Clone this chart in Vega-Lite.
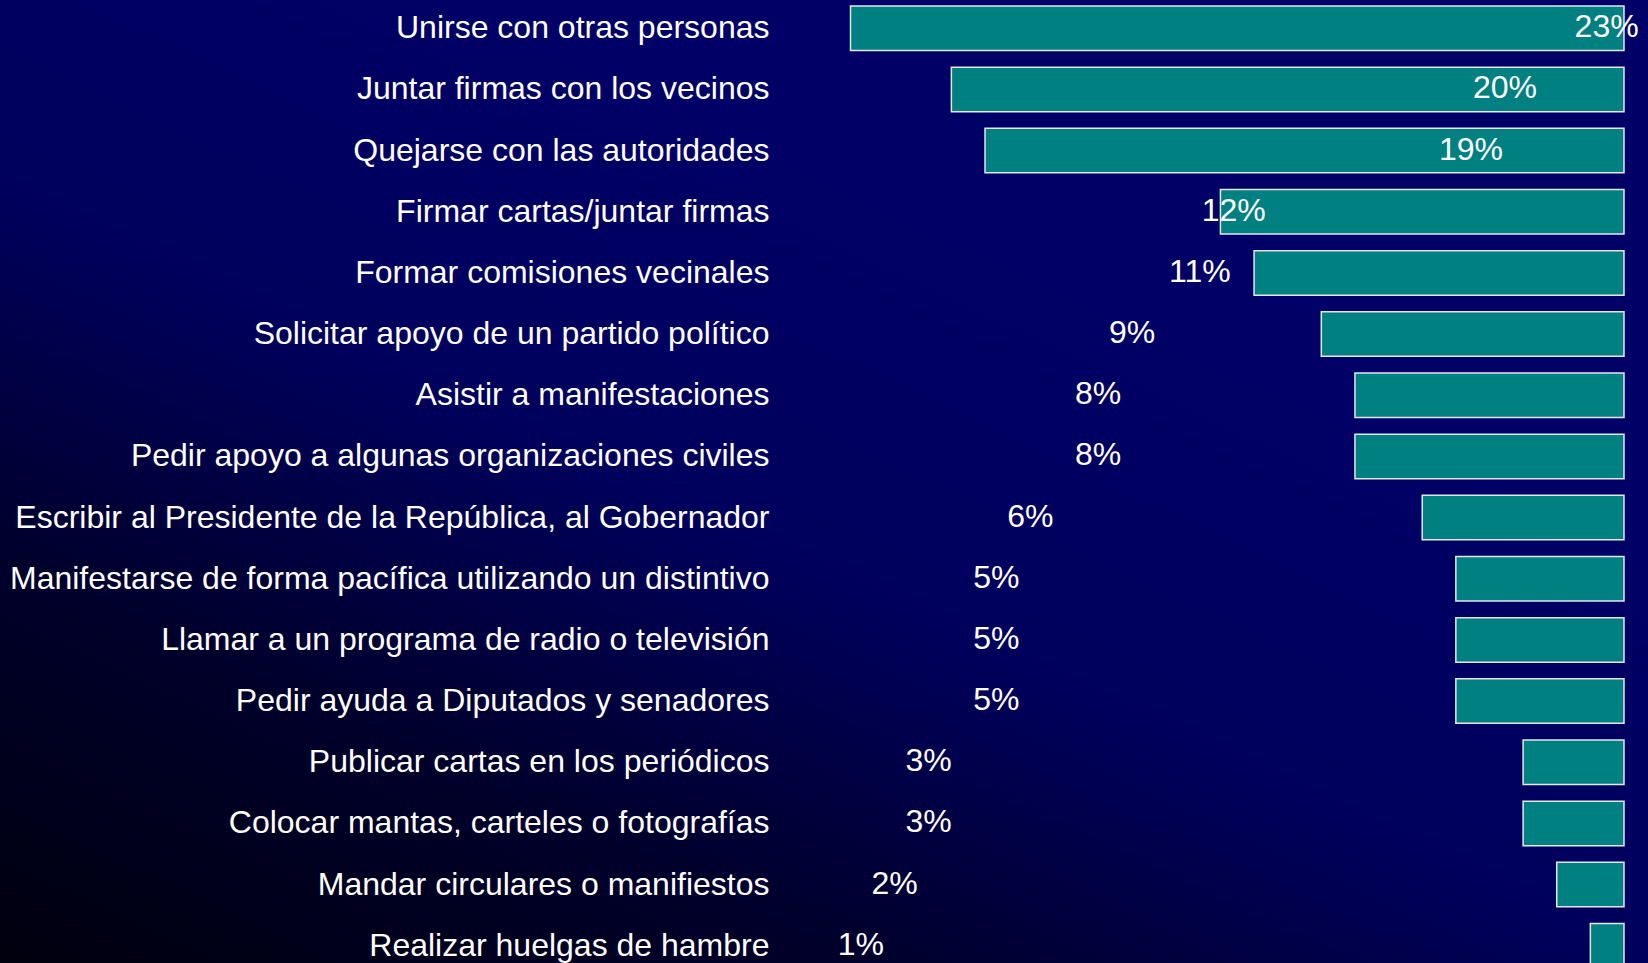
{
  "$schema": "https://vega.github.io/schema/vega-lite/v6.json",
  "width": 1648,
  "height": 963,
  "autosize": {"type": "none"},
  "padding": 0,
  "background": "#000066",
  "config": {
    "view": {
      "stroke": null,
      "fill": {
        "gradient": "linear",
        "x1": 0, "y1": 1, "x2": 0.6, "y2": 0.25,
        "stops": [
          {"offset": 0, "color": "#00000e"},
          {"offset": 0.35, "color": "#00002c"},
          {"offset": 0.65, "color": "#00005c"},
          {"offset": 1, "color": "#000066"}
        ]
      }
    },
    "font": "Liberation Sans"
  },
  "data": {
    "values": [
      {"accion": "Unirse con otras personas", "pct": 23, "etiqueta": "23%"},
      {"accion": "Juntar firmas con los vecinos", "pct": 20, "etiqueta": "20%"},
      {"accion": "Quejarse con las autoridades", "pct": 19, "etiqueta": "19%"},
      {"accion": "Firmar cartas/juntar firmas", "pct": 12, "etiqueta": "12%"},
      {"accion": "Formar comisiones vecinales", "pct": 11, "etiqueta": "11%"},
      {"accion": "Solicitar apoyo de un partido político", "pct": 9, "etiqueta": "9%"},
      {"accion": "Asistir a manifestaciones", "pct": 8, "etiqueta": "8%"},
      {"accion": "Pedir apoyo a algunas organizaciones civiles", "pct": 8, "etiqueta": "8%"},
      {"accion": "Escribir al Presidente de la República, al Gobernador", "pct": 6, "etiqueta": "6%"},
      {"accion": "Manifestarse de forma pacífica utilizando un distintivo", "pct": 5, "etiqueta": "5%"},
      {"accion": "Llamar a un programa de radio o televisión", "pct": 5, "etiqueta": "5%"},
      {"accion": "Pedir ayuda a Diputados y senadores", "pct": 5, "etiqueta": "5%"},
      {"accion": "Publicar cartas en los periódicos", "pct": 3, "etiqueta": "3%"},
      {"accion": "Colocar mantas, carteles o fotografías", "pct": 3, "etiqueta": "3%"},
      {"accion": "Mandar circulares o manifiestos", "pct": 2, "etiqueta": "2%"},
      {"accion": "Realizar huelgas de hambre", "pct": 1, "etiqueta": "1%"}
    ]
  },
  "encoding": {
    "y": {
      "field": "accion",
      "type": "nominal",
      "sort": null,
      "scale": {"range": [0, 974], "paddingInner": 0.272, "paddingOuter": 0.098},
      "axis": {
        "title": null,
        "orient": "left",
        "offset": -769,
        "labelPadding": 0,
        "ticks": false,
        "domain": false,
        "grid": false,
        "labelFontSize": 32,
        "labelColor": "#ffffff",
        "labelFont": "Liberation Sans",
        "labelLimit": 900
      }
    }
  },
  "layer": [
    {
      "mark": {"type": "bar", "fill": "#008080", "stroke": "#e6e6f0", "strokeWidth": 1.5},
      "encoding": {
        "x": {
          "field": "pct",
          "type": "quantitative",
          "scale": {"domain": [-0.714, 48.29], "reverse": true, "nice": false, "zero": false},
          "axis": null
        },
        "x2": {"datum": 0}
      }
    },
    {
      "mark": {"type": "text", "color": "#ffffff", "fontSize": 32, "font": "Liberation Sans", "baseline": "middle", "dy": -1},
      "encoding": {
        "x": {
          "field": "pct",
          "type": "quantitative",
          "scale": {"domain": [-24.39, 24.22], "nice": false, "zero": false},
          "axis": null
        },
        "text": {"field": "etiqueta"}
      }
    }
  ],
  "resolve": {"scale": {"x": "independent"}}
}
